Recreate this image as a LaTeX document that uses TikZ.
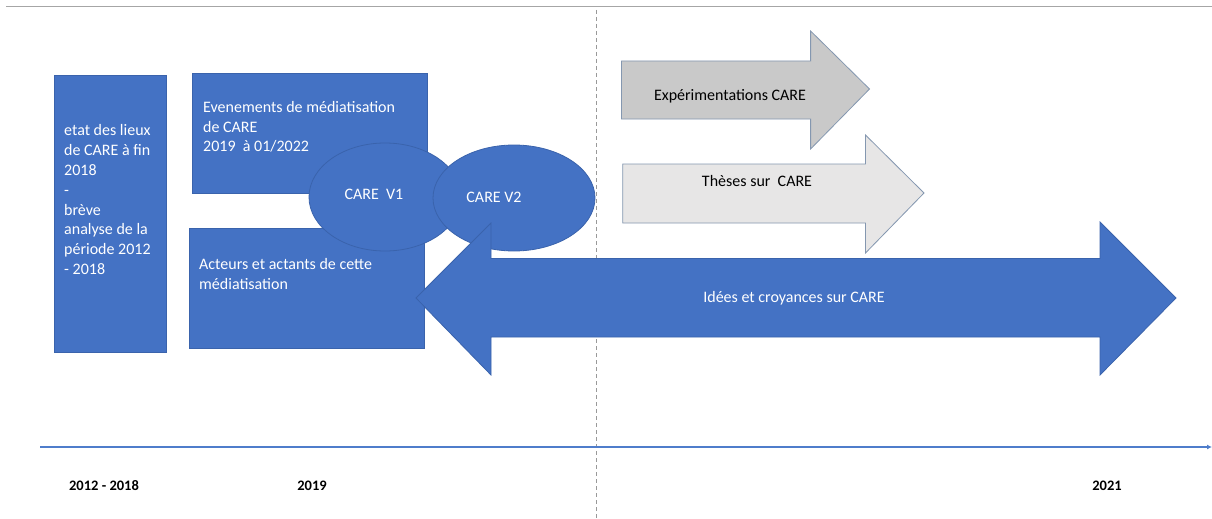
\documentclass[tikz,border=0pt]{standalone}
\usepackage{fontspec}
\setmainfont{Carlito}
\usetikzlibrary{arrows.meta}
\begin{document}
\begin{tikzpicture}[x=1pt,y=-1pt,
  bluebox/.style={fill=cblue,draw=cblueline,line width=0.8pt},
  txt/.style={text=white,font=\fontsize{16}{19.8}\selectfont,inner sep=0pt,align=left},
  ctxt/.style={font=\fontsize{16}{18}\selectfont,inner sep=0pt},
  yr/.style={font=\bfseries\fontsize{14.5}{16}\selectfont,inner sep=0pt}]
\definecolor{cblue}{HTML}{4472C4}
\definecolor{cblueline}{HTML}{3A63AC}
\definecolor{cgray}{HTML}{C9C9C9}
\definecolor{clight}{HTML}{E7E6E6}
\definecolor{cgrayline}{HTML}{8497B0}
\definecolor{ctime}{HTML}{4F7DCB}
\useasboundingbox (0,0) rectangle (1212,519);
\fill[white] (0,0) rectangle (1212,519);
% top rule and dashed divider
\coordinate (tl) at (6,6); \coordinate (tr) at (1212,6);
\draw[gray!70,line width=0.8pt] (tl) -- (tr);
\coordinate (dt) at (596,10); \coordinate (db) at (596,519);
\draw[gray!80,line width=0.6pt,dash pattern=on 4pt off 3pt] (dt) -- (db);
% boxes
\node[bluebox,minimum width=112pt,minimum height=277pt,inner sep=0pt,anchor=north west] (etat) at (54,75) {};
\node[bluebox,minimum width=235pt,minimum height=120pt,inner sep=0pt,anchor=north west] (even) at (192,73) {};
\node[bluebox,minimum width=235pt,minimum height=120pt,inner sep=0pt,anchor=north west] (acteurs) at (189,228) {};
\node[txt,anchor=north west] (etatT) at (64,124.5) {etat des lieux\\de CARE à fin\\2018\\-\\brève\\analyse de la\\période 2012\\- 2018};
\node[txt,anchor=north west] (evenT) at (203,101) {Evenements de médiatisation\\de CARE\\2019~ à 01/2022};
\node[txt,anchor=north west] (actT) at (199,258) {Acteurs et actants de cette\\médiatisation};
% ellipses
\draw[bluebox] (385,197) ellipse [x radius=76,y radius=54];
\node[ctxt,text=white] (v1) at (374,194) {CARE~ V1};
\draw[bluebox] (514,198) ellipse [x radius=81,y radius=53];
\node[ctxt,text=white] (v2) at (494,197) {CARE V2};
% grey arrows
\draw[fill=cgray,draw=cgrayline,line width=0.8pt] (621.5,61) -- (810.6,61) -- (810.6,31) -- (869.5,89) -- (810.6,149) -- (810.6,119) -- (621.5,119) -- cycle;
\node[ctxt] (exp) at (730,96) {Expérimentations CARE};
\draw[fill=clight,draw=cgrayline,line width=0.8pt] (622.7,164) -- (865.5,164) -- (865.5,135) -- (924,193) -- (865.5,253) -- (865.5,223) -- (622.7,223) -- cycle;
\node[ctxt] (these) at (757,181) {Thèses sur~ CARE};
% big double arrow
\draw[bluebox] (416,298) -- (491,223) -- (491,258.5) -- (1100,258.5) -- (1100,222) -- (1176,298) -- (1100,375) -- (1100,337) -- (491,337) -- (491,375) -- cycle;
\node[ctxt,text=white] (idees) at (794,298) {Idées et croyances sur CARE};
% timeline
\coordinate (t0) at (40,447); \coordinate (t1) at (1212,447);
\draw[ctime,line width=1.6pt,-{Latex[length=5pt,width=5pt]}] (t0) -- (t1);
\node[yr] (y1) at (104,486) {2012 - 2018};
\node[yr] (y2) at (312,486) {2019};
\node[yr] (y3) at (1107,486) {2021};
\end{tikzpicture}
\end{document}
